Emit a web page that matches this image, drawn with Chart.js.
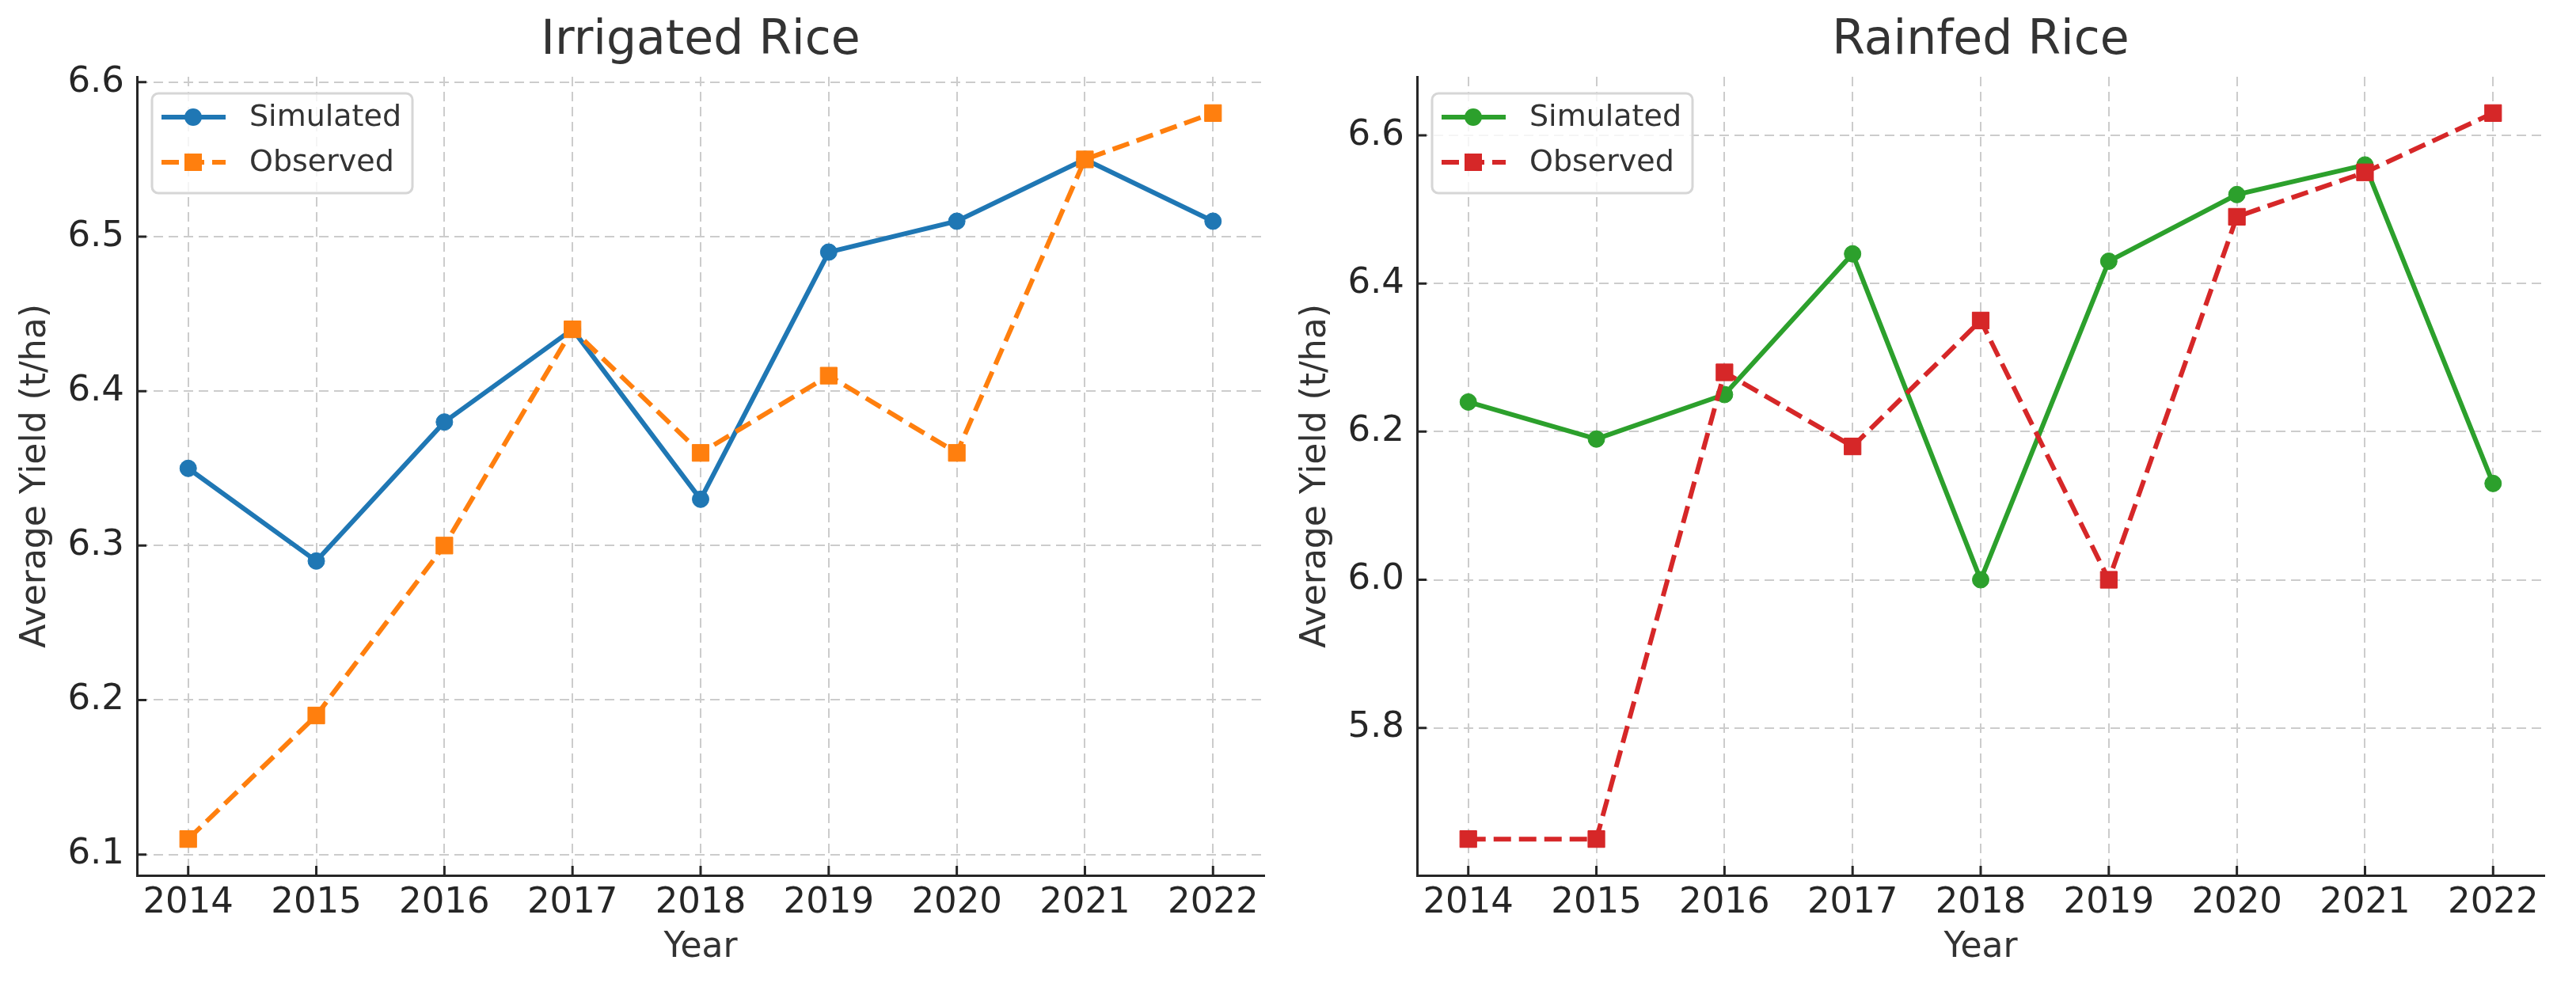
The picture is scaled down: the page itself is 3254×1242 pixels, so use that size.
<!DOCTYPE html>
<html>
<head>
<meta charset="utf-8">
<script src="https://cdn.jsdelivr.net/npm/chart.js@4.4.1/dist/chart.umd.min.js"></script>
<style>
html,body{margin:0;padding:0;background:#fff;}
#wrap{position:relative;width:3254px;height:1242px;overflow:hidden;}
canvas{position:absolute;top:0;}
</style>
</head>
<body>
<div id="wrap">
<canvas id="c1" width="1627" height="1242" style="left:0;width:1627px;height:1242px"></canvas>
<canvas id="c2" width="1627" height="1242" style="left:1627px;width:1627px;height:1242px"></canvas>
</div>
<script>
// ---- data ----
const years = [2014, 2015, 2016, 2017, 2018, 2019, 2020, 2021, 2022];
const irrigatedSimulated = [6.35, 6.29, 6.38, 6.44, 6.33, 6.49, 6.51, 6.55, 6.51];
const irrigatedObserved  = [6.11, 6.19, 6.30, 6.44, 6.36, 6.41, 6.36, 6.55, 6.58];
const rainfedSimulated   = [6.24, 6.19, 6.25, 6.44, 6.00, 6.43, 6.52, 6.56, 6.13];
const rainfedObserved    = [5.65, 5.65, 6.28, 6.18, 6.35, 6.00, 6.49, 6.55, 6.63];
const irrigatedYTicks = [6.1, 6.2, 6.3, 6.4, 6.5, 6.6];
const rainfedYTicks   = [5.8, 6.0, 6.2, 6.4, 6.6];
const seriesLabels = ['Simulated', 'Observed'];

const FONT = "'DejaVu Sans', sans-serif";

const inTicks = {
  id: 'inTicks',
  afterDatasetsDraw(chart) {
    const {ctx, chartArea: a, scales: {x, y}} = chart;
    ctx.save();
    ctx.strokeStyle = '#262626';
    ctx.lineWidth = 3;
    ctx.beginPath();
    x.ticks.forEach(t => { const px = x.getPixelForValue(t.value); ctx.moveTo(px, a.bottom); ctx.lineTo(px, a.bottom - 12); });
    y.ticks.forEach(t => { const py = y.getPixelForValue(t.value); ctx.moveTo(a.left, py); ctx.lineTo(a.left + 12, py); });
    ctx.stroke();
    ctx.restore();
  }
};

const boxLegend = {
  id: 'boxLegend',
  afterDraw(chart) {
    const {ctx, chartArea: a} = chart;
    const x0 = a.left + 19, y0 = a.top + 21, w = 329, h = 126;
    ctx.save();
    ctx.beginPath();
    ctx.roundRect(x0, y0, w, h, 8);
    ctx.fillStyle = 'rgba(255,255,255,0.8)';
    ctx.fill();
    ctx.lineWidth = 3;
    ctx.strokeStyle = '#d6d6d6';
    ctx.stroke();
    chart.data.datasets.forEach((ds, i) => {
      const cy = y0 + 30 + i * 57;
      ctx.strokeStyle = ds.borderColor;
      ctx.lineWidth = ds.borderWidth;
      ctx.setLineDash(ds.borderDash || []);
      ctx.beginPath();
      ctx.moveTo(x0 + 12, cy);
      ctx.lineTo(x0 + 93, cy);
      ctx.stroke();
      ctx.setLineDash([]);
      ctx.fillStyle = ds.backgroundColor;
      if (ds.pointStyle === 'rect') {
        ctx.fillRect(x0 + 52 - 11, cy - 11, 22, 22);
      } else {
        ctx.beginPath();
        ctx.arc(x0 + 52, cy, 11, 0, Math.PI * 2);
        ctx.fill();
      }
      ctx.fillStyle = '#333333';
      ctx.font = '38px ' + FONT;
      ctx.textBaseline = 'middle';
      ctx.textAlign = 'left';
      ctx.fillText(ds.label, x0 + 123, cy + 1);
    });
    ctx.restore();
  }
};

function makeChart(id, title, sim, obs, simColor, obsColor, yTicks, yWidth, rightPad, yTitlePad) {
  const all = sim.concat(obs);
  const lo = Math.min(...all), hi = Math.max(...all), span = hi - lo;
  const xs = years[years.length - 1] - years[0];
  return new Chart(document.getElementById(id), {
    type: 'line',
    data: {
      datasets: [
        {
          label: seriesLabels[0],
          data: years.map((yr, i) => ({x: yr, y: sim[i]})),
          borderColor: simColor, backgroundColor: simColor,
          borderWidth: 6, pointStyle: 'circle', pointRadius: 10.5,
          pointBorderWidth: 1, pointBorderColor: simColor, pointBackgroundColor: simColor,
          tension: 0, order: 1
        },
        {
          label: seriesLabels[1],
          data: years.map((yr, i) => ({x: yr, y: obs[i]})),
          borderColor: obsColor, backgroundColor: obsColor,
          borderWidth: 6, borderDash: [22, 10], pointStyle: 'rect', pointRadius: 15,
          pointBorderWidth: 1, pointBorderColor: obsColor, pointBackgroundColor: obsColor,
          tension: 0, order: 0
        }
      ]
    },
    plugins: [inTicks, boxLegend],
    options: {
      responsive: false, animation: false, devicePixelRatio: 1, events: [],
      layout: {padding: {left: 0, right: rightPad, top: 0, bottom: 0}},
      plugins: {
        legend: {display: false},
        tooltip: {enabled: false},
        title: {
          display: true, text: title, color: '#333333', fullSize: false,
          font: {family: FONT, size: 60, weight: 'normal', lineHeight: 1.2},
          padding: {top: 16, bottom: 9}
        }
      },
      scales: {
        x: {
          type: 'linear',
          min: years[0] - 0.05 * xs, max: years[years.length - 1] + 0.05 * xs,
          afterBuildTicks: s => { s.ticks = years.map(v => ({value: v})); },
          afterFit: s => { s.height = 136; },
          ticks: {autoSkip: false, maxRotation: 0, padding: 8, color: '#262626',
                  font: {family: FONT, size: 45}, callback: v => String(v)},
          grid: {color: '#cccccc', lineWidth: 2, drawTicks: false},
          border: {display: true, color: '#262626', width: 3, dash: [12, 7]},
          title: {display: true, text: 'Year', color: '#333333',
                  font: {family: FONT, size: 44, lineHeight: 1.2}, padding: {top: 0, bottom: 18}}
        },
        y: {
          type: 'linear',
          min: lo - 0.05 * span, max: hi + 0.05 * span,
          afterBuildTicks: s => { s.ticks = yTicks.map(v => ({value: v})); },
          afterFit: s => { s.width = yWidth; },
          ticks: {padding: 16, color: '#262626', font: {family: FONT, size: 45},
                  callback: v => Number(v).toFixed(1)},
          grid: {color: '#cccccc', lineWidth: 2, drawTicks: false},
          border: {display: true, color: '#262626', width: 3, dash: [12, 7]},
          title: {display: true, text: 'Average Yield (t/ha)', color: '#333333',
                  font: {family: FONT, size: 44, lineHeight: 1.2}, padding: {top: yTitlePad, bottom: 0}}
        }
      }
    }
  });
}

makeChart('c1', 'Irrigated Rice', irrigatedSimulated, irrigatedObserved, '#1f77b4', '#ff7f0e', irrigatedYTicks, 173, 30, 19);
makeChart('c2', 'Rainfed Rice', rainfedSimulated, rainfedObserved, '#2ca02c', '#d62728', rainfedYTicks, 163, 40, 9);
</script>
</body>
</html>
